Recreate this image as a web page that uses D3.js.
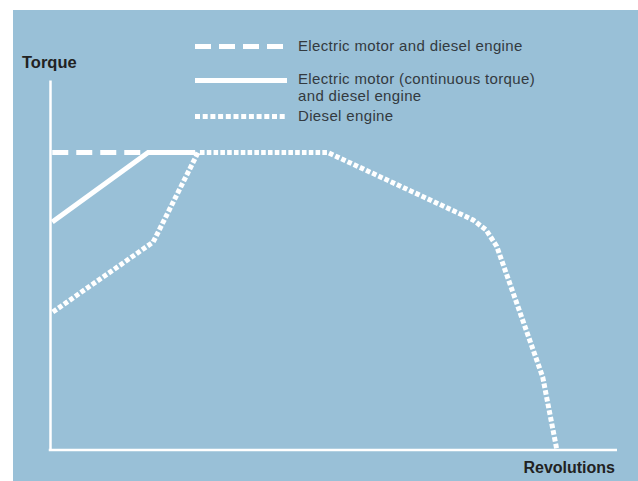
<!DOCTYPE html>
<html>
<head>
<meta charset="utf-8">
<script src="https://cdn.jsdelivr.net/npm/d3@7"></script>
<style>
  html, body { margin: 0; padding: 0; background: #fff; }
  svg { display: block; }
</style>
</head>
<body>
<div id="chart"></div>
<script>
// Torque curves, normalised units (revolutions 0-100, torque 0-100)
const dashedPoints = [[0.4, 80.4], [17.3, 80.4]];
const solidPoints = [[0.4, 61.6], [17.3, 80.4], [25.6, 80.4]];
const dottedPoints = [
  [0.5, 37.3], [18.2, 56.2], [26.1, 80.4], [49.0, 80.4],
  [74.6, 62.2], [76.9, 59.5], [78.8, 55.0], [86.9, 19.7], [89.4, 0]
];

const legendLabels = [
  ['Electric motor and diesel engine'],
  ['Electric motor (continuous torque)', 'and diesel engine'],
  ['Diesel engine']
];
const axisLabels = { y: 'Torque', x: 'Revolutions' };

const width = 638, height = 481;
const panelColor = '#99c0d7';
const lineColor = '#ffffff';

const svg = d3.select('#chart').append('svg')
  .attr('width', width)
  .attr('height', height);

// blue panel
svg.append('rect')
  .attr('x', 13).attr('y', 10)
  .attr('width', width - 13).attr('height', height - 10)
  .attr('fill', panelColor);

const x = d3.scaleLinear().domain([0, 100]).range([50, 617]);
const y = d3.scaleLinear().domain([0, 100]).range([450, 80]);

// axes: plain lines, no ticks
const xAxis = d3.axisBottom(x).tickValues([]).tickSizeOuter(0);
const yAxis = d3.axisLeft(y).tickValues([]).tickSizeOuter(0);

svg.append('g')
  .attr('transform', `translate(0,${y(0)})`)
  .call(xAxis)
  .call(g => g.select('.domain').attr('stroke', lineColor).attr('stroke-width', 2.5)
    .attr('d', `M${x(0) - 1.25},0H${x(100)}`));

svg.append('g')
  .attr('transform', `translate(${x(0)},0)`)
  .call(yAxis)
  .call(g => g.select('.domain').attr('stroke', lineColor).attr('stroke-width', 2.5));

const line = d3.line().x(d => x(d[0])).y(d => y(d[1]));

const styles = [
  { dash: '16,8', width: 5 },
  { dash: null, width: 5 },
  { dash: '4.6,2.2', width: 5 }
];

const series = [dashedPoints, solidPoints, dottedPoints];
series.forEach((pts, i) => {
  svg.append('path')
    .datum(pts)
    .attr('d', line)
    .attr('fill', 'none')
    .attr('stroke', lineColor)
    .attr('stroke-width', styles[i].width)
    .attr('stroke-dasharray', styles[i].dash)
    .attr('stroke-linejoin', 'miter');
});

// legend
const legendY = [46.5, 80.5, 116.5];
const textY = [51, 84, 121];
const legend = svg.append('g').attr('font-family', 'Liberation Sans, Arial, sans-serif')
  .attr('font-size', 15).attr('letter-spacing', 0.35).attr('fill', '#333a40');

legendLabels.forEach((lines, i) => {
  legend.append('line')
    .attr('x1', 195).attr('x2', 287)
    .attr('y1', legendY[i]).attr('y2', legendY[i])
    .attr('stroke', lineColor)
    .attr('stroke-width', 5)
    .attr('stroke-dasharray', i === 2 ? '5,2.7' : styles[i].dash);
  const t = legend.append('text').attr('x', 298).attr('y', textY[i]);
  lines.forEach((s, j) => {
    t.append('tspan').attr('x', 298).attr('dy', j === 0 ? 0 : 17).text(s);
  });
});

// axis titles
svg.append('text')
  .attr('x', 22).attr('y', 68)
  .attr('font-family', 'Liberation Sans, Arial, sans-serif')
  .attr('font-size', 16.5).attr('font-weight', 'bold').attr('fill', '#222')
  .text(axisLabels.y);

svg.append('text')
  .attr('x', 615).attr('y', 473)
  .attr('text-anchor', 'end')
  .attr('font-family', 'Liberation Sans, Arial, sans-serif')
  .attr('font-size', 16).attr('font-weight', 'bold').attr('fill', '#222')
  .text(axisLabels.x);
</script>
</body>
</html>
